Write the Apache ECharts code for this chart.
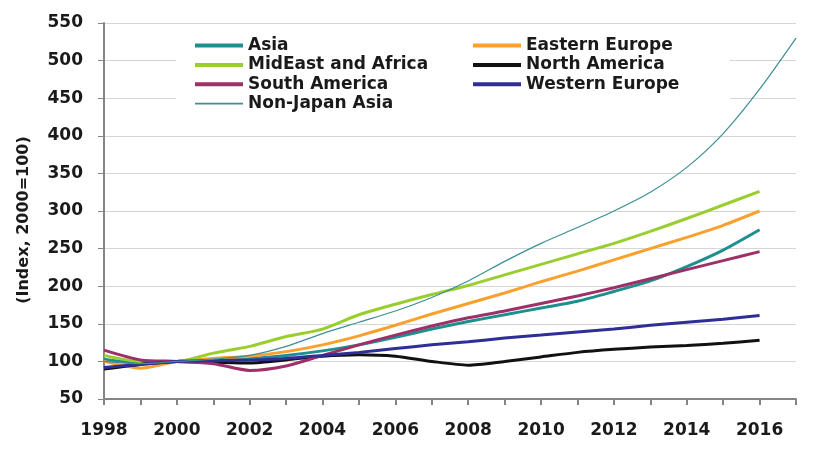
<!DOCTYPE html>
<html>
<head>
<meta charset="utf-8">
<script src="https://cdn.jsdelivr.net/npm/echarts@6/dist/echarts.min.js"></script>
<style>
  html, body { margin: 0; padding: 0; background: #fff; }
  #chart { width: 815px; height: 454px; }
</style>
</head>
<body>
<div id="chart"></div>
<script>
const years = ['1998','1999','2000','2001','2002','2003','2004','2005','2006','2007','2008','2009','2010','2011','2012','2013','2014','2015','2016','2017'];
const yTicks = { min: 50, max: 550, interval: 50 };
const yAxisTitle = '(Index, 2000=100)';

const asia          = [103, 98, 100, 101, 104, 108, 114, 122, 132, 143, 153, 162, 171, 180, 193, 207, 226, 248, 275, null];
const easternEurope = [100, 91, 100, 104, 107, 113, 122, 134, 148, 163, 177, 191, 206, 220, 235, 250, 265, 281, 300, null];
const midEastAfrica = [108, 100, 100, 111, 120, 133, 143, 162, 176, 189, 201, 215, 229, 243, 257, 273, 290, 308, 326, null];
const northAmerica  = [90, 96, 100, 99, 98, 102, 107, 109, 107, 100, 95, 100, 106, 112, 116, 119, 121, 124, 128, null];
const southAmerica  = [115, 102, 100, 97, 88, 94, 108, 122, 135, 147, 158, 167, 177, 187, 198, 210, 222, 234, 246, null];
const westernEurope = [92, 96, 100, 101, 102, 104, 108, 112, 117, 122, 126, 131, 135, 139, 143, 148, 152, 156, 161, null];
const nonJapanAsia  = [100, 97, 100, 103, 108, 120, 137, 152, 167, 185, 207, 233, 257, 278, 300, 325, 358, 403, 462, 530];

const FONT = '"DejaVu Sans", "Liberation Sans", Arial, sans-serif';
const TEXT = '#1a1a1a';

function mk(name, data, color, width) {
  return {
    name: name, type: 'line', data: data, symbol: 'none', smooth: 0.25,
    connectNulls: false,
    lineStyle: { color: color, width: width },
    itemStyle: { color: color },
    emphasis: { disabled: true }
  };
}

const series = [
  mk('Asia', asia, '#1d8f8f', 3),
  mk('Eastern Europe', easternEurope, '#f9a12e', 3),
  mk('MidEast and Africa', midEastAfrica, '#9acd2e', 3),
  mk('North America', northAmerica, '#111111', 3),
  mk('South America', southAmerica, '#9e3068', 3),
  mk('Western Europe', westernEurope, '#2e2e96', 3),
  mk('Non-Japan Asia', nonJapanAsia, '#3d8f95', 1.2)
];

const THICK = 'path://M0,0 L48,0 L48,4 L0,4 Z';
const THIN = 'path://M0,0 L48,0 L48,1.8 L0,1.8 Z';
const legendText = { fontFamily: FONT, fontWeight: 'bold', fontSize: 17, color: TEXT, lineHeight: 17 };
const legendCommon = {
  orient: 'vertical', top: 37, padding: 0, itemWidth: 48, itemHeight: 14, itemGap: 2.4,
  textStyle: legendText, selectedMode: false, symbolKeepAspect: true
};

const chart = echarts.init(document.getElementById('chart'), null, { renderer: 'canvas' });
chart.setOption({
  animation: false,
  backgroundColor: '#ffffff',
  grid: { left: 104, right: 19, top: 23, bottom: 55, containLabel: false },
  graphic: [{
    type: 'rect', z: 1, silent: true,
    shape: { x: 176, y: 34, width: 554, height: 80 },
    style: { fill: '#ffffff' }
  }],
  legend: [
    Object.assign({}, legendCommon, {
      left: 195,
      data: [
        { name: 'Asia', icon: THICK },
        { name: 'MidEast and Africa', icon: THICK },
        { name: 'South America', icon: THICK },
        { name: 'Non-Japan Asia', icon: THIN }
      ]
    }),
    Object.assign({}, legendCommon, {
      left: 473,
      data: [
        { name: 'Eastern Europe', icon: THICK },
        { name: 'North America', icon: THICK },
        { name: 'Western Europe', icon: THICK }
      ]
    })
  ],
  xAxis: {
    type: 'category', data: years, boundaryGap: false,
    axisLine: { show: true, lineStyle: { color: '#858585', width: 2 } },
    axisTick: { show: true, interval: 0, length: 6, lineStyle: { color: '#858585', width: 2 } },
    axisLabel: { interval: 1, margin: 23, fontFamily: FONT, fontWeight: 'bold', fontSize: 17, color: TEXT },
    splitLine: { show: false }
  },
  yAxis: {
    type: 'value', min: yTicks.min, max: yTicks.max, interval: yTicks.interval,
    name: yAxisTitle, nameLocation: 'middle', nameGap: 72, nameRotate: 90,
    nameTextStyle: { fontFamily: FONT, fontWeight: 'bold', fontSize: 16, color: TEXT, padding: [0, 18, 0, 0] },
    axisLine: { show: true, lineStyle: { color: '#858585', width: 2 } },
    axisTick: { show: true, inside: false, length: 6, lineStyle: { color: '#858585', width: 1 } },
    axisLabel: { margin: 21, fontFamily: FONT, fontWeight: 'bold', fontSize: 17, color: TEXT },
    splitLine: { show: true, lineStyle: { color: '#d6d6d6', width: 1 } }
  },
  series: series
});
</script>
</body>
</html>
